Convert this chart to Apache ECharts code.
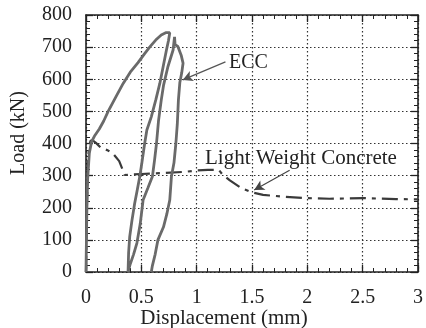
<!DOCTYPE html>
<html>
<head>
<meta charset="utf-8">
<script src="https://cdn.jsdelivr.net/npm/echarts@6/dist/echarts.min.js"></script>
<style>html,body{margin:0;padding:0;background:#fff}#c{width:426px;height:328px}</style>
</head>
<body>
<div id="c"></div>
<script>
// ---- data ----
const xTicks = [0, 0.5, 1, 1.5, 2, 2.5, 3];
const yTicks = [0, 100, 200, 300, 400, 500, 600, 700, 800];

// ECC: envelope, unload, reload, second unload
const eccDisp = [0,0.004,0.008,0.015,0.03,0.05,0.08,0.12,0.16,0.2,0.27,0.336,0.4,0.47,0.53,0.577,0.63,0.68,0.72,0.757,
  0.745,0.727,0.697,0.667,0.63,0.59,0.55,0.53,0.505,0.486,0.46,0.44,0.415,0.395,0.385,0.38,
  0.40,0.43,0.46,0.49,0.516,0.56,0.60,0.62,0.637,0.655,0.68,0.70,0.74,0.787,0.80,
  0.805,0.83,0.86,0.877,0.865,0.848,0.835,0.825,0.812,0.795,0.772,0.757,0.73,0.70,0.65,0.625,0.60,0.59];
const eccLoad = [0,100,200,290,370,405,425,445,470,500,545,587,622,652,680,701,722,738,745,745,
  720,691,639,587,535,483,442,400,340,297,250,214,160,110,60,0,
  25,55,90,150,224,262,297,350,400,470,535,580,639,691,732,
  708,702,675,650,620,590,535,460,400,340,297,224,180,140,100,55,20,0];

// Light weight concrete
const lwcDisp = [0,0.008,0.015,0.025,0.04,0.06,0.09,0.13,0.2,0.25,0.3,0.35,0.5,0.7,0.9,1.0,1.1,1.2,1.23,1.3,1.4,1.5,1.6,1.8,2.0,2.2,2.5,2.8,3.0];
const lwcLoad = [0,200,310,380,408,410,402,388,378,366,345,302,305,308,312,316,318,318,305,285,262,248,240,234,230,228,230,227,226];

// annotations
const eccArrow = [[1.26, 654], [0.874, 598]];
const lwcArrow = [[1.84, 317], [1.52, 255]];

const eccData = eccDisp.map((x, i) => [x, eccLoad[i]]);
const lwcData = lwcDisp.map((x, i) => [x, lwcLoad[i]]);

const FONT = '"Liberation Serif", "DejaVu Serif", serif';
const INK = '#222';

const chart = echarts.init(document.getElementById('c'), null, {renderer: 'canvas'});

function frameAxis(extra) {
  return Object.assign({
    type: 'value',
    axisLine: {show: true, onZero: false, lineStyle: {color: INK, width: 1.6}},
    axisTick: {show: true, inside: true, length: 7, lineStyle: {color: INK, width: 1.3}},
    minorTick: {show: true, splitNumber: 5, length: 4, lineStyle: {color: INK, width: 1}},
    axisLabel: {show: false},
    splitLine: {show: false}
  }, extra);
}

const gridLine = {show: true, lineStyle: {color: '#333', type: [1.5, 2.5], width: 1.2}};

chart.setOption({
  animation: false,
  backgroundColor: '#fff',
  grid: {left: 86, right: 7, top: 15, bottom: 56, containLabel: false},
  xAxis: [
    frameAxis({
      position: 'bottom', min: xTicks[0], max: xTicks[xTicks.length - 1], interval: 0.5,
      axisLabel: {show: true, color: INK, fontFamily: FONT, fontSize: 20, margin: 16,
        formatter: v => String(v)},
      splitLine: gridLine
    }),
    frameAxis({position: 'top', min: 0, max: 3, interval: 0.5})
  ],
  yAxis: [
    frameAxis({
      position: 'left', min: yTicks[0], max: yTicks[yTicks.length - 1], interval: 100,
      axisLabel: {show: true, color: INK, fontFamily: FONT, fontSize: 20, margin: 14},
      splitLine: gridLine
    }),
    frameAxis({position: 'right', min: 0, max: 800, interval: 100})
  ],
  series: [
    {
      name: 'Light Weight Concrete', type: 'line', data: lwcData, showSymbol: false,
      lineStyle: {color: '#3a3a3a', width: 2.2, type: [16, 6, 4, 6]},
      markLine: {
        silent: true, symbol: ['none', 'arrow'], symbolSize: [8, 10],
        label: {show: false},
        lineStyle: {color: '#444', width: 1.2, type: 'solid'},
        data: [[{coord: lwcArrow[0]}, {coord: lwcArrow[1]}]]
      }
    },
    {
      name: 'ECC', type: 'line', data: eccData, showSymbol: false,
      lineStyle: {color: '#6a6a6a', width: 2.8},
      markLine: {
        silent: true, symbol: ['none', 'arrow'], symbolSize: [8, 10],
        label: {show: false},
        lineStyle: {color: '#555', width: 1.2, type: 'solid'},
        data: [[{coord: eccArrow[0]}, {coord: eccArrow[1]}]]
      }
    }
  ],
  graphic: [
    {type: 'text', x: 229, y: 63, style: {text: 'ECC', fill: INK, font: '20px ' + FONT, textAlign: 'left', textVerticalAlign: 'middle'}},
    {type: 'text', x: 205, y: 158, style: {text: 'Light Weight Concrete', fill: INK, font: '21px ' + FONT, textAlign: 'left', textVerticalAlign: 'middle'}},
    {type: 'text', x: 224, y: 318, style: {text: 'Displacement (mm)', fill: INK, font: '21px ' + FONT, textAlign: 'center', textVerticalAlign: 'middle'}},
    {type: 'text', x: 19, y: 133, rotation: Math.PI / 2, style: {text: 'Load (kN)', fill: INK, font: '20px ' + FONT, textAlign: 'center', textVerticalAlign: 'middle'}}
  ]
});
</script>
</body>
</html>
